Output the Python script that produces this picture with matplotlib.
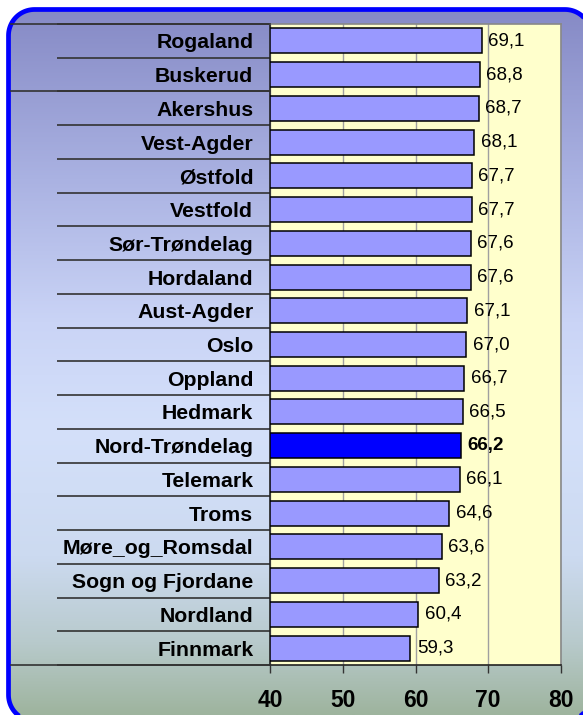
import matplotlib
matplotlib.use("Agg")
import matplotlib.pyplot as plt
import numpy as np
from matplotlib.colors import LinearSegmentedColormap
from matplotlib.patches import Polygon

plt.rcParams['font.family'] = ['Liberation Sans', 'DejaVu Sans']

# data (top to bottom as in the chart)
counties = ["Rogaland", "Buskerud", "Akershus", "Vest-Agder", "Østfold", "Vestfold",
            "Sør-Trøndelag", "Hordaland", "Aust-Agder", "Oslo", "Oppland", "Hedmark",
            "Nord-Trøndelag", "Telemark", "Troms", "Møre_og_Romsdal", "Sogn og Fjordane",
            "Nordland", "Finnmark"]
values = [69.1, 68.8, 68.7, 68.1, 67.7, 67.7, 67.6, 67.6, 67.1, 67.0, 66.7, 66.5,
          66.2, 66.1, 64.6, 63.6, 63.2, 60.4, 59.3]
highlight = "Nord-Trøndelag"
xticks = [40, 50, 60, 70, 80]


def rounded_rect(left, bottom, right, top, r, n=24):
    pts = []
    for cx, cy, a0 in [(right - r, top - r, 0), (left + r, top - r, 90),
                       (left + r, bottom + r, 180), (right - r, bottom + r, 270)]:
        a = np.radians(np.linspace(a0, a0 + 90, n))
        pts += list(zip(cx + r * np.cos(a), cy + r * np.sin(a)))
    return np.array(pts)


W, H = 583, 715
fig = plt.figure(figsize=(W / 100, H / 100), dpi=100)
fig.patch.set_facecolor('white')

# background: rounded frame with vertical gradient
bg = fig.add_axes([0, 0, 1, 1])
bg.set_xlim(0, W)
bg.set_ylim(0, H)
bg.axis('off')
grad = LinearSegmentedColormap.from_list('bg', [
    (0.0, '#8488c4'), (0.25, '#aab2e2'), (0.45, '#cad4f6'), (0.6, '#d4e0fa'),
    (0.78, '#ccdaf0'), (0.9, '#b8cacc'), (1.0, '#9eb49e')])
g = np.linspace(0, 1, 256).reshape(-1, 1)
im = bg.imshow(g, cmap=grad, extent=[0, W, 0, H], aspect='auto', origin='upper', zorder=0)
frame = Polygon(rounded_rect(8.5, -6, 591, 705.5, 26), closed=True, facecolor='none',
                edgecolor='#0000ff', linewidth=3.4, zorder=2)
bg.add_patch(frame)
im.set_clip_path(frame)

# plot area
x0, x1, y0, y1 = 270, 561, 24, 665
ax = fig.add_axes([x0 / W, 1 - y1 / H, (x1 - x0) / W, (y1 - y0) / H])
ax.set_facecolor('#ffffcc')

n = len(counties)
pos = np.arange(n)
colors = ['#0000ff' if c == highlight else '#9999ff' for c in counties]
ax.barh(pos, [v - 40 for v in values], left=40, height=0.74, color=colors,
        edgecolor='black', linewidth=1.1, zorder=3)

for p, v, c in zip(pos, values, counties):
    ax.text(v + 0.9, p, f"{v:.1f}".replace('.', ','), va='center', ha='left',
            fontsize=13.5, fontweight='bold' if c == highlight else 'normal',
            color='black', zorder=4)

ax.set_xlim(40, 80)
ax.set_ylim(n - 0.5, -0.5)
ax.set_xticks(xticks)
ax.set_xticklabels([str(t) for t in xticks], fontsize=16.5, fontweight='bold')
ax.tick_params(axis='x', length=6, width=1, color='#333333', pad=11, direction='out')
ax.grid(axis='x', color='#a0a0a0', linewidth=1, zorder=1)
ax.set_axisbelow(True)

ax.set_yticks(pos)
ax.set_yticklabels(counties, fontsize=15.3, fontweight='bold')
ax.tick_params(axis='y', which='major', length=0, pad=12)
ax.set_yticks(np.arange(n + 1) - 0.5, minor=True)
ax.tick_params(axis='y', which='minor', length=(x0 - 57) * 0.72, width=1.2, color='#333333')

# long separator lines reaching the frame
for b in [-0.5, 1.5, n - 0.5]:
    ax.plot([(11 - x0) / (x1 - x0), 0], [b, b], color='#333333', linewidth=1.2,
            transform=ax.get_yaxis_transform(), clip_on=False, zorder=5)

for s in ['left', 'bottom']:
    ax.spines[s].set_color('#222222')
    ax.spines[s].set_linewidth(1.2)
for s in ['top', 'right']:
    ax.spines[s].set_color('#888888')
    ax.spines[s].set_linewidth(1.2)

fig.savefig('out.png', dpi=100, facecolor=fig.get_facecolor())
